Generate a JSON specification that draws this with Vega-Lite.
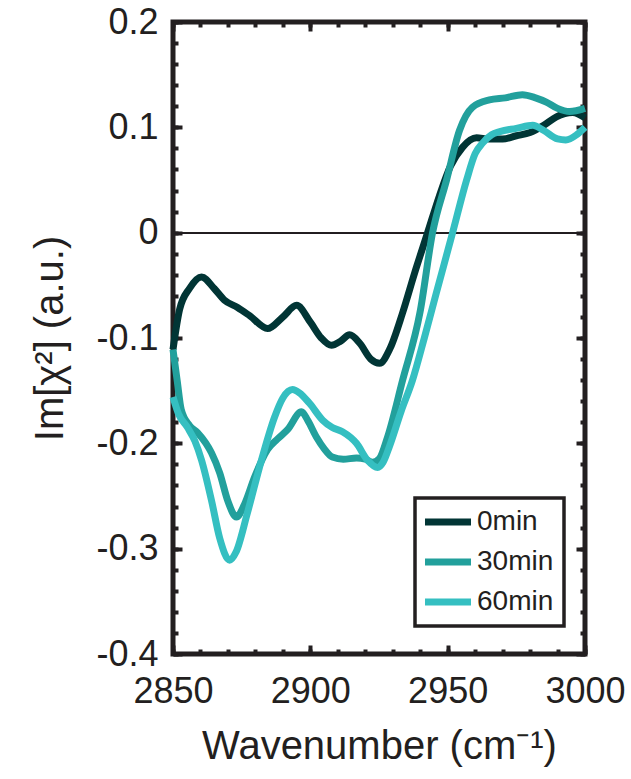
{
  "$schema": "https://vega.github.io/schema/vega-lite/v6.json",
  "autosize": "none",
  "width": 412,
  "height": 632,
  "padding": {"left": 173, "top": 22, "right": 46, "bottom": 125},
  "background": "white",
  "config": {
    "view": {"stroke": "#231f20", "strokeWidth": 5},
    "font": "Liberation Sans"
  },
  "data": {
    "values": [
      {"wn": 2850, "v": -0.111, "s": "0min"},
      {"wn": 2852.4, "v": -0.073, "s": "0min"},
      {"wn": 2856, "v": -0.053, "s": "0min"},
      {"wn": 2860.4, "v": -0.042, "s": "0min"},
      {"wn": 2865, "v": -0.053, "s": "0min"},
      {"wn": 2868.7, "v": -0.064, "s": "0min"},
      {"wn": 2873.5, "v": -0.071, "s": "0min"},
      {"wn": 2878, "v": -0.079, "s": "0min"},
      {"wn": 2884.4, "v": -0.091, "s": "0min"},
      {"wn": 2890, "v": -0.08, "s": "0min"},
      {"wn": 2895, "v": -0.069, "s": "0min"},
      {"wn": 2900, "v": -0.085, "s": "0min"},
      {"wn": 2904, "v": -0.1, "s": "0min"},
      {"wn": 2907.7, "v": -0.107, "s": "0min"},
      {"wn": 2911, "v": -0.103, "s": "0min"},
      {"wn": 2914.3, "v": -0.097, "s": "0min"},
      {"wn": 2918, "v": -0.105, "s": "0min"},
      {"wn": 2922, "v": -0.12, "s": "0min"},
      {"wn": 2925.2, "v": -0.124, "s": "0min"},
      {"wn": 2929, "v": -0.11, "s": "0min"},
      {"wn": 2933.6, "v": -0.076, "s": "0min"},
      {"wn": 2938, "v": -0.038, "s": "0min"},
      {"wn": 2942.7, "v": 0.0, "s": "0min"},
      {"wn": 2947, "v": 0.035, "s": "0min"},
      {"wn": 2951, "v": 0.063, "s": "0min"},
      {"wn": 2955.4, "v": 0.081, "s": "0min"},
      {"wn": 2960.5, "v": 0.09, "s": "0min"},
      {"wn": 2965, "v": 0.089, "s": "0min"},
      {"wn": 2970, "v": 0.089, "s": "0min"},
      {"wn": 2975, "v": 0.092, "s": "0min"},
      {"wn": 2980, "v": 0.095, "s": "0min"},
      {"wn": 2985, "v": 0.102, "s": "0min"},
      {"wn": 2989.6, "v": 0.11, "s": "0min"},
      {"wn": 2995.5, "v": 0.114, "s": "0min"},
      {"wn": 3000, "v": 0.109, "s": "0min"},

      {"wn": 2850, "v": -0.111, "s": "30min"},
      {"wn": 2851.5, "v": -0.14, "s": "30min"},
      {"wn": 2853, "v": -0.168, "s": "30min"},
      {"wn": 2856, "v": -0.183, "s": "30min"},
      {"wn": 2859, "v": -0.19, "s": "30min"},
      {"wn": 2864, "v": -0.209, "s": "30min"},
      {"wn": 2867, "v": -0.228, "s": "30min"},
      {"wn": 2870, "v": -0.255, "s": "30min"},
      {"wn": 2873.1, "v": -0.27, "s": "30min"},
      {"wn": 2876, "v": -0.258, "s": "30min"},
      {"wn": 2879.7, "v": -0.232, "s": "30min"},
      {"wn": 2884.4, "v": -0.206, "s": "30min"},
      {"wn": 2888, "v": -0.196, "s": "30min"},
      {"wn": 2891.7, "v": -0.187, "s": "30min"},
      {"wn": 2896.8, "v": -0.17, "s": "30min"},
      {"wn": 2899, "v": -0.178, "s": "30min"},
      {"wn": 2902.2, "v": -0.194, "s": "30min"},
      {"wn": 2905, "v": -0.205, "s": "30min"},
      {"wn": 2908, "v": -0.213, "s": "30min"},
      {"wn": 2912, "v": -0.215, "s": "30min"},
      {"wn": 2916.8, "v": -0.214, "s": "30min"},
      {"wn": 2920, "v": -0.215, "s": "30min"},
      {"wn": 2922.6, "v": -0.218, "s": "30min"},
      {"wn": 2925, "v": -0.215, "s": "30min"},
      {"wn": 2928, "v": -0.195, "s": "30min"},
      {"wn": 2933.6, "v": -0.14, "s": "30min"},
      {"wn": 2939.9, "v": -0.076, "s": "30min"},
      {"wn": 2944.5, "v": 0.0, "s": "30min"},
      {"wn": 2949.6, "v": 0.05, "s": "30min"},
      {"wn": 2954.3, "v": 0.097, "s": "30min"},
      {"wn": 2959, "v": 0.119, "s": "30min"},
      {"wn": 2965.2, "v": 0.126, "s": "30min"},
      {"wn": 2971, "v": 0.128, "s": "30min"},
      {"wn": 2977.2, "v": 0.131, "s": "30min"},
      {"wn": 2982, "v": 0.128, "s": "30min"},
      {"wn": 2985.9, "v": 0.124, "s": "30min"},
      {"wn": 2990, "v": 0.118, "s": "30min"},
      {"wn": 2994.4, "v": 0.115, "s": "30min"},
      {"wn": 3000, "v": 0.118, "s": "30min"},

      {"wn": 2850, "v": -0.156, "s": "60min"},
      {"wn": 2852, "v": -0.172, "s": "60min"},
      {"wn": 2855.3, "v": -0.185, "s": "60min"},
      {"wn": 2858, "v": -0.198, "s": "60min"},
      {"wn": 2860.4, "v": -0.216, "s": "60min"},
      {"wn": 2864, "v": -0.254, "s": "60min"},
      {"wn": 2867, "v": -0.29, "s": "60min"},
      {"wn": 2870.6, "v": -0.311, "s": "60min"},
      {"wn": 2873, "v": -0.303, "s": "60min"},
      {"wn": 2877.1, "v": -0.266, "s": "60min"},
      {"wn": 2882.2, "v": -0.216, "s": "60min"},
      {"wn": 2887, "v": -0.175, "s": "60min"},
      {"wn": 2890, "v": -0.157, "s": "60min"},
      {"wn": 2893.5, "v": -0.149, "s": "60min"},
      {"wn": 2896, "v": -0.152, "s": "60min"},
      {"wn": 2899.7, "v": -0.162, "s": "60min"},
      {"wn": 2904.5, "v": -0.178, "s": "60min"},
      {"wn": 2908, "v": -0.185, "s": "60min"},
      {"wn": 2911.7, "v": -0.189, "s": "60min"},
      {"wn": 2916.8, "v": -0.2, "s": "60min"},
      {"wn": 2920.8, "v": -0.216, "s": "60min"},
      {"wn": 2924.5, "v": -0.223, "s": "60min"},
      {"wn": 2926.5, "v": -0.218, "s": "60min"},
      {"wn": 2928.8, "v": -0.203, "s": "60min"},
      {"wn": 2933, "v": -0.17, "s": "60min"},
      {"wn": 2937.2, "v": -0.14, "s": "60min"},
      {"wn": 2941.5, "v": -0.1, "s": "60min"},
      {"wn": 2945.9, "v": -0.057, "s": "60min"},
      {"wn": 2951.8, "v": 0.0, "s": "60min"},
      {"wn": 2956.9, "v": 0.05, "s": "60min"},
      {"wn": 2960, "v": 0.075, "s": "60min"},
      {"wn": 2962.7, "v": 0.085, "s": "60min"},
      {"wn": 2966, "v": 0.093, "s": "60min"},
      {"wn": 2969, "v": 0.096, "s": "60min"},
      {"wn": 2975, "v": 0.099, "s": "60min"},
      {"wn": 2981, "v": 0.102, "s": "60min"},
      {"wn": 2985, "v": 0.097, "s": "60min"},
      {"wn": 2990, "v": 0.089, "s": "60min"},
      {"wn": 2993, "v": 0.088, "s": "60min"},
      {"wn": 2997, "v": 0.093, "s": "60min"},
      {"wn": 3000, "v": 0.1, "s": "60min"}
    ]
  },
  "resolve": {"axis": {"x": "independent", "y": "independent"}},
  "layer": [
    {
      "mark": {"type": "rule", "color": "#231f20", "strokeWidth": 1.2},
      "encoding": {
        "y": {"datum": 0, "type": "quantitative", "scale": {"domain": [-0.4, 0.2], "nice": false, "zero": false}, "axis": null}
      }
    },
    {
      "mark": {"type": "line", "strokeWidth": 7, "interpolate": "monotone"},
      "encoding": {
        "x": {
          "field": "wn", "type": "quantitative",
          "scale": {"domain": [2850, 3000], "nice": false, "zero": false},
          "axis": {
            "orient": "bottom", "values": [2850, 2900, 2950, 3000], "format": "d", "ticks": false, "domain": false, "grid": false,
            "labelFontSize": 36, "labelColor": "#231f20", "labelPadding": 20, "labelFlush": false, "labelOverlap": false,
            "title": "Wavenumber (cm⁻¹)", "titleFontSize": 40, "titleFontWeight": "normal", "titleColor": "#231f20", "titleY": 72
          }
        },
        "y": {
          "field": "v", "type": "quantitative",
          "scale": {"domain": [-0.4, 0.2], "nice": false, "zero": false},
          "axis": {
            "orient": "left", "values": [-0.4, -0.3, -0.2, -0.1, 0, 0.1, 0.2], "ticks": false, "domain": false, "grid": false,
            "labelFontSize": 36, "labelColor": "#231f20", "labelPadding": 15, "labelFlush": false, "labelOverlap": false,
            "labelExpr": "replace(format(datum.value, '.1~f'), '−', '-')",
            "title": "Im[χ²] (a.u.)", "titleFontSize": 40, "titleFontWeight": "normal", "titleColor": "#231f20", "titleX": -103
          }
        },
        "color": {
          "field": "s", "type": "nominal",
          "scale": {"domain": ["0min", "30min", "60min"], "range": ["#013535", "#22a09c", "#35bfc1"]},
          "legend": {
            "title": null, "orient": "none", "legendX": 242, "legendY": 476,
            "symbolType": "M-3,0H3", "symbolSize": 235, "symbolStrokeWidth": 7, "symbolOffset": 9,
            "labelOffset": 15, "labelFontSize": 28, "labelColor": "#231f20", "labelFont": "Liberation Sans",
            "rowPadding": 12, "padding": 10, "fillColor": "white", "strokeColor": "#231f20",
            "encode": {"legend": {"update": {"strokeWidth": {"value": 3.5}}}}
          }
        }
      }
    },
    {
      "mark": {"type": "point", "opacity": 0},
      "encoding": {
        "x": {"field": "wn", "type": "quantitative", "scale": {"domain": [2850, 3000], "nice": false, "zero": false},
          "axis": {"orient": "bottom", "values": [2850, 2900, 2950, 3000], "labels": false, "domain": false, "grid": false, "title": null, "tickSize": -9, "tickWidth": 4, "tickColor": "#231f20"}},
        "y": {"field": "v", "type": "quantitative", "scale": {"domain": [-0.4, 0.2], "nice": false, "zero": false},
          "axis": {"orient": "left", "values": [-0.4, -0.3, -0.2, -0.1, 0, 0.1, 0.2], "labels": false, "domain": false, "grid": false, "title": null, "tickSize": -9, "tickWidth": 4, "tickColor": "#231f20"}}
      }
    },
    {
      "mark": {"type": "point", "opacity": 0},
      "encoding": {
        "x": {"field": "wn", "type": "quantitative", "scale": {"domain": [2850, 3000], "nice": false, "zero": false},
          "axis": {"orient": "bottom", "values": [2850, 2860, 2870, 2880, 2890, 2900, 2910, 2920, 2930, 2940, 2950, 2960, 2970, 2980, 2990, 3000], "labels": false, "domain": false, "grid": false, "title": null, "tickSize": -5, "tickWidth": 4, "tickColor": "#231f20"}},
        "y": {"field": "v", "type": "quantitative", "scale": {"domain": [-0.4, 0.2], "nice": false, "zero": false},
          "axis": {"orient": "left", "values": [-0.4, -0.38, -0.36, -0.34, -0.32, -0.3, -0.28, -0.26, -0.24, -0.22, -0.2, -0.18, -0.16, -0.14, -0.12, -0.1, -0.08, -0.06, -0.04, -0.02, 0, 0.02, 0.04, 0.06, 0.08, 0.1, 0.12, 0.14, 0.16, 0.18, 0.2], "labels": false, "domain": false, "grid": false, "title": null, "tickSize": -5, "tickWidth": 4, "tickColor": "#231f20"}}
      }
    },
    {
      "mark": {"type": "point", "opacity": 0},
      "encoding": {
        "x": {"field": "wn", "type": "quantitative", "scale": {"domain": [2850, 3000], "nice": false, "zero": false},
          "axis": {"orient": "top", "values": [2850, 2900, 2950, 3000], "labels": false, "domain": false, "grid": false, "title": null, "tickSize": -9, "tickWidth": 4, "tickColor": "#231f20"}},
        "y": {"field": "v", "type": "quantitative", "scale": {"domain": [-0.4, 0.2], "nice": false, "zero": false},
          "axis": {"orient": "right", "values": [-0.4, -0.3, -0.2, -0.1, 0, 0.1, 0.2], "labels": false, "domain": false, "grid": false, "title": null, "tickSize": -9, "tickWidth": 4, "tickColor": "#231f20"}}
      }
    },
    {
      "mark": {"type": "point", "opacity": 0},
      "encoding": {
        "x": {"field": "wn", "type": "quantitative", "scale": {"domain": [2850, 3000], "nice": false, "zero": false},
          "axis": {"orient": "top", "values": [2850, 2860, 2870, 2880, 2890, 2900, 2910, 2920, 2930, 2940, 2950, 2960, 2970, 2980, 2990, 3000], "labels": false, "domain": false, "grid": false, "title": null, "tickSize": -5, "tickWidth": 4, "tickColor": "#231f20"}},
        "y": {"field": "v", "type": "quantitative", "scale": {"domain": [-0.4, 0.2], "nice": false, "zero": false},
          "axis": {"orient": "right", "values": [-0.4, -0.38, -0.36, -0.34, -0.32, -0.3, -0.28, -0.26, -0.24, -0.22, -0.2, -0.18, -0.16, -0.14, -0.12, -0.1, -0.08, -0.06, -0.04, -0.02, 0, 0.02, 0.04, 0.06, 0.08, 0.1, 0.12, 0.14, 0.16, 0.18, 0.2], "labels": false, "domain": false, "grid": false, "title": null, "tickSize": -5, "tickWidth": 4, "tickColor": "#231f20"}}
      }
    }
  ]
}
